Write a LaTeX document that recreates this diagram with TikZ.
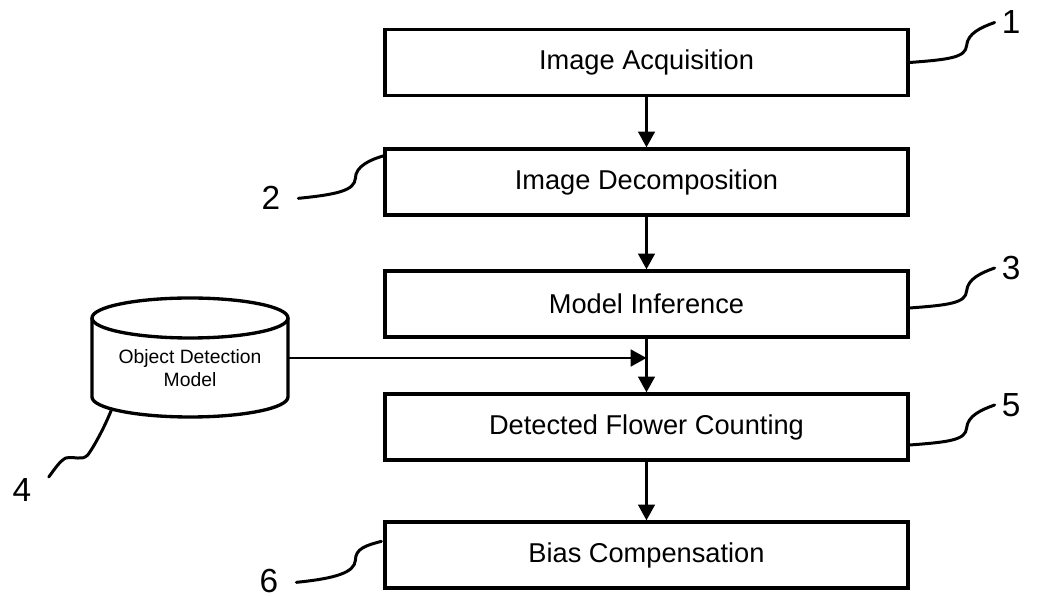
\documentclass[tikz,border=0pt]{standalone}
\usepackage{fontspec}
\setmainfont{Liberation Sans}
\usetikzlibrary{calc}
\usetikzlibrary{arrows.meta}

\begin{document}
\begin{tikzpicture}[x=0.02cm,y=-0.02cm,
  stage/.style={draw,line width=1.9pt,minimum width=10.46cm,minimum height=1.32cm,inner sep=0pt,font=\fontsize{15.5}{18}\selectfont},
  flow/.style={line width=1.5pt,-{Triangle[length=9pt,width=9.5pt]}},
  leader/.style={line width=1.7pt,line cap=round},
  num/.style={inner sep=1pt,font=\fontsize{19}{22}\selectfont}]
  % Boundary
  \path[use as bounding box] (0,0) rectangle (1038,597);
  % Process stages
  \node[stage] (acq) at (646.5,62.5) {Image Acquisition};
  \node[stage] (decomp) at (646.5,182) {Image Decomposition};
  \node[stage] (infer) at (646.5,304) {Model Inference};
  \node[stage] (count) at (646.5,427) {Detected Flower Counting};
  \node[stage] (bias) at (646.5,555) {Bias Compensation};
  % Model store
  \coordinate (cyltop) at (190,318);
  \coordinate (cylbot) at (190,397);
  \draw[line width=1.9pt] ($(cyltop)+(-98,0)$) -- ($(cylbot)+(-98,0)$)
    arc[start angle=180,end angle=360,x radius=1.96cm,y radius=0.4cm] -- ($(cyltop)+(98,0)$);
  \draw[line width=1.9pt] (cyltop) ellipse[x radius=1.96cm,y radius=0.4cm];
  \node[font=\fontsize{11}{13}\selectfont,align=center] (model) at (190,368) {Object Detection\\Model};
  \coordinate (cylR) at (288,358);
  % Flow
  \draw[flow] (acq) -- (decomp);
  \draw[flow] (decomp) -- (infer);
  \draw[flow] (infer) -- (count);
  \draw[flow] (count) -- (bias);
  \draw[flow] (cylR) -- (cylR -| infer.south);
  % Reference numerals
  \draw[leader] (acq.east) .. controls +(40,-3) and +(-1,12) .. ++(57,-17)
    .. controls +(1,-12) and +(-14,5) .. ++(28,-23) node[num,right=2.3pt] (n1) {1};
  \draw[leader] ($(infer.east)+(0,4)$) .. controls +(40,-3) and +(-1,12) .. ++(57,-17)
    .. controls +(1,-12) and +(-14,5) .. ++(28,-23) node[num,right=2.3pt] (n3) {3};
  \draw[leader] ($(count.east)+(0,18)$) .. controls +(40,-3) and +(-1,12) .. ++(57,-17)
    .. controls +(1,-12) and +(-14,5) .. ++(28,-23) node[num,right=2.3pt] (n5) {5};
  \draw[leader] ($(decomp.north west)+(2,8)$) .. controls +(-15,4) and +(0,-12) .. ++(-30,23)
    .. controls +(-1,12) and +(40,-4) .. ++(-57,20) node[num,left=8.5pt] (n2) {2};
  \draw[leader] ($(bias.north west)+(-2,21)$) .. controls +(-15,4) and +(0,-12) .. ++(-26,19)
    .. controls +(-1,12) and +(40,-4) .. ++(-59,22) node[num,left=8.5pt,yshift=1pt] (n6) {6};
  \draw[leader] ($(cylbot)+(143:98 and 20)$) .. controls +(-7,18) and +(6,-8) .. ++(-24,46)
    .. controls +(-6,6) and +(9,-2) .. ++(-22,3)
    .. controls +(-6,3) and +(6,-8) .. ++(-17,19) node[num,anchor=north east,xshift=-8.2pt,yshift=1pt] (n4) {4};
\end{tikzpicture}
\end{document}
